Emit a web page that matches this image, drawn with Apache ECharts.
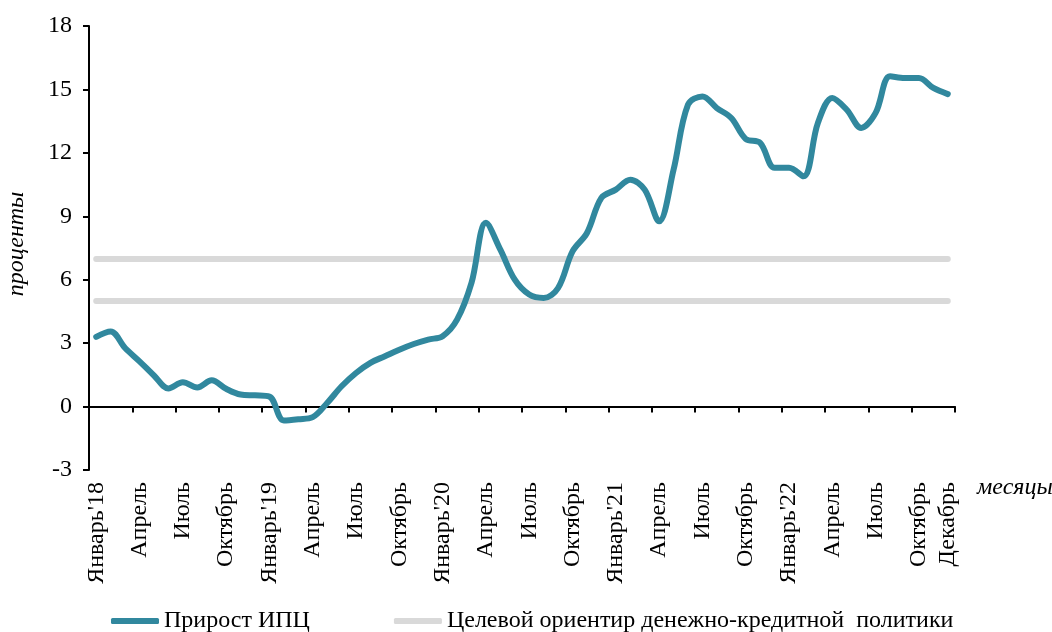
<!DOCTYPE html>
<html>
<head>
<meta charset="utf-8">
<script src="https://cdn.jsdelivr.net/npm/echarts@6/dist/echarts.min.js"></script>
<style>
html,body{margin:0;padding:0;background:#fff;}
#chart{width:1052px;height:632px;}
</style>
</head>
<body>
<div id="chart"></div>
<script>
var categories = [
  '2018-01','2018-02','2018-03','2018-04','2018-05','2018-06','2018-07','2018-08','2018-09','2018-10','2018-11','2018-12',
  '2019-01','2019-02','2019-03','2019-04','2019-05','2019-06','2019-07','2019-08','2019-09','2019-10','2019-11','2019-12',
  '2020-01','2020-02','2020-03','2020-04','2020-05','2020-06','2020-07','2020-08','2020-09','2020-10','2020-11','2020-12',
  '2021-01','2021-02','2021-03','2021-04','2021-05','2021-06','2021-07','2021-08','2021-09','2021-10','2021-11','2021-12',
  '2022-01','2022-02','2022-03','2022-04','2022-05','2022-06','2022-07','2022-08','2022-09','2022-10','2022-11','2022-12'
];
var tickLabels = [
  "Январь'18",'','','Апрель','','','Июль','','','Октябрь','','',
  "Январь'19",'','','Апрель','','','Июль','','','Октябрь','','',
  "Январь'20",'','','Апрель','','','Июль','','','Октябрь','','',
  "Январь'21",'','','Апрель','','','Июль','','','Октябрь','','',
  "Январь'22",'','','Апрель','','','Июль','','','Октябрь','','Декабрь'
];
var cpiGrowth = [
  3.3, 3.55, 2.77, 2.14, 1.47, 0.86, 1.15, 0.9, 1.24, 0.84, 0.57, 0.53,
  0.47, -0.66, -0.6, -0.5, 0.17, 0.96, 1.59, 2.07, 2.38, 2.69, 2.96, 3.17,
  3.33, 4.11, 5.85, 8.69, 7.42, 6.0, 5.3, 5.14, 5.61, 7.34, 8.21, 9.87,
  10.26, 10.73, 10.26, 8.76, 11.2, 14.28, 14.67, 14.12, 13.65, 12.66,
  12.47, 11.29, 11.29, 10.89, 13.41, 14.6, 14.04, 13.18, 13.89, 15.62,
  15.54, 15.54, 15.07, 14.78
];
var targetLevels = [5, 7];
var yTicks = [-3, 0, 3, 6, 9, 12, 15, 18];

var seriesNames = ['Прирост ИПЦ', 'Целевой ориентир денежно-кредитной  политики'];
var FONT = 'Liberation Serif';

var chart = echarts.init(document.getElementById('chart'), null, {renderer: 'canvas'});

var option = {
  animation: false,
  backgroundColor: '#ffffff',
  textStyle: {fontFamily: FONT},
  grid: {left: 89, right: 97, top: 26, bottom: 162, containLabel: false, outerBoundsMode: 'none'},
  legend: {
    top: 604,
    left: 106,
    itemWidth: 48,
    itemHeight: 6,
    itemGap: 84,
    icon: 'roundRect',
    textStyle: {fontFamily: FONT, fontSize: 24, color: '#000'},
    data: [seriesNames[0], seriesNames[1]]
  },
  xAxis: [
    {
      type: 'category',
      data: categories,
      boundaryGap: true,
      axisLine: {show: true, onZero: true, lineStyle: {color: '#000', width: 2}},
      axisTick: {show: true, interval: 2, length: 6, inside: false, lineStyle: {color: '#000', width: 2}},
      axisLabel: {show: false},
      splitLine: {show: false}
    },
    {
      type: 'category',
      data: categories,
      position: 'bottom',
      boundaryGap: true,
      axisLine: {show: false, onZero: false},
      axisTick: {show: false},
      splitLine: {show: false},
      axisLabel: {
        show: true,
        interval: 0,
        rotate: 90,
        margin: 12,
        fontFamily: FONT,
        fontSize: 24,
        color: '#000',
        formatter: function (v, i) { return tickLabels[i]; }
      },
      name: 'месяцы',
      nameLocation: 'end',
      nameGap: 22,
      nameTextStyle: {fontFamily: FONT, fontSize: 24, fontStyle: 'italic', color: '#000', verticalAlign: 'top', padding: [6, 0, 0, 0]}
    }
  ],
  yAxis: {
    type: 'value',
    min: yTicks[0],
    max: yTicks[yTicks.length - 1],
    interval: 3,
    axisLine: {show: true, lineStyle: {color: '#000', width: 2}},
    axisTick: {show: true, length: 6, lineStyle: {color: '#000', width: 2}},
    splitLine: {show: false},
    axisLabel: {margin: 17, fontFamily: FONT, fontSize: 24, color: '#000'},
    name: 'проценты',
    nameLocation: 'middle',
    nameGap: 60,
    nameRotate: 90,
    nameTextStyle: {fontFamily: FONT, fontSize: 24, fontStyle: 'italic', color: '#000', padding: [0, 0, 0, 8]}
  },
  series: [
    {
      name: seriesNames[1],
      type: 'line',
      xAxisIndex: 0,
      data: [],
      color: '#d9d9d9',
      z: 1,
      markLine: {
        silent: true,
        symbol: ['none', 'none'],
        label: {show: false},
        lineStyle: {color: '#d9d9d9', width: 6, type: 'solid', cap: 'round'},
        data: targetLevels.map(function (lv) {
          return [{coord: [categories[0], lv]}, {coord: [categories[categories.length - 1], lv]}];
        })
      }
    },
    {
      name: seriesNames[0],
      type: 'line',
      xAxisIndex: 0,
      data: cpiGrowth,
      smooth: 0.35,
      symbol: 'none',
      color: '#31889e',
      z: 5,
      lineStyle: {width: 6, color: '#31889e', cap: 'round', join: 'round'}
    }
  ]
};
chart.setOption(option);
</script>
</body>
</html>
